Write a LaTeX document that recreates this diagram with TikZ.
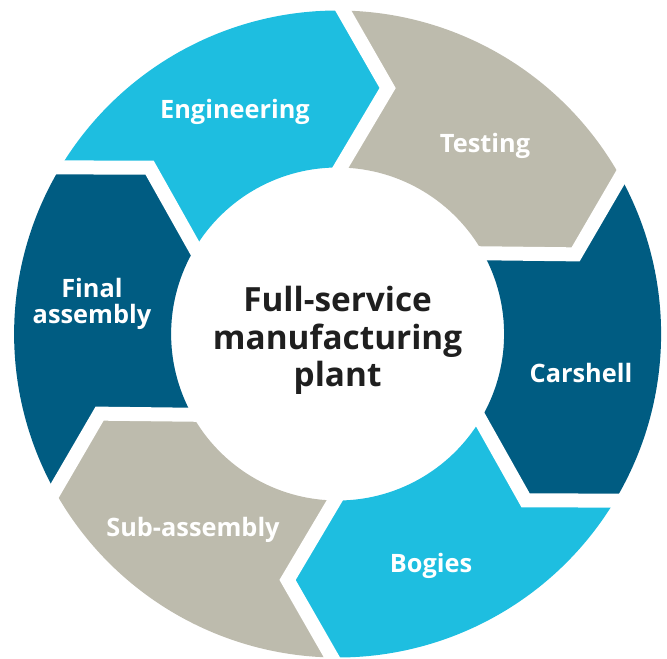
\documentclass[tikz,border=0pt]{standalone}
\usepackage{fontspec}
\setmainfont{Open Sans}
\usetikzlibrary{calc}

\definecolor{ringcyan}{RGB}{30,190,224}
\definecolor{ringgray}{RGB}{189,187,173}
\definecolor{ringdark}{RGB}{0,92,130}

% radii of the ring and angle of the chevron tip
\newcommand{\rout}{323.5}
\newcommand{\rin}{166.5}
\newcommand{\rmid}{251}
\newcommand{\dtip}{10.5}

% one chevron segment: #1 start angle, #2 colour
\newcommand{\ringseg}[2]{%
	\fill[#2] (#1:\rin) -- (#1-\dtip:\rmid) -- (#1:\rout)
		arc[start angle=#1, end angle=#1-60, radius=\rout]
		-- (#1-60-\dtip:\rmid) -- (#1-60:\rin)
		arc[start angle=#1-60, end angle=#1, radius=\rin] -- cycle;}

\begin{document}
\begin{tikzpicture}[x=0.75pt,y=0.75pt,
		gapline/.style={white, line width=10.5pt, line join=miter},
		seglabel/.style={white, font=\fontsize{19}{19.5}\selectfont\bfseries, align=center},
		hublabel/.style={black!88, font=\fontsize{25}{28}\selectfont\bfseries, align=center}]
	\useasboundingbox (-337.6,-324) rectangle (329.4,334);
	% segments, clockwise from the top
	\ringseg{149}{ringcyan}
	\ringseg{89}{ringgray}
	\ringseg{29}{ringdark}
	\ringseg{-31}{ringcyan}
	\ringseg{-91}{ringgray}
	\ringseg{-151}{ringdark}
	% white gaps between the segments
	\foreach \a in {89,29,-31,-91,-151,149}
		\draw[gapline] ($(\a-\dtip:\rmid)!1.4!(\a:\rout)$) -- (\a-\dtip:\rmid) -- ($(\a-\dtip:\rmid)!1.4!(\a:\rin)$);
	% labels
	\node[seglabel, anchor=base] (engineering) at (-102.6,216) {Engineering};
	\node[seglabel, anchor=base] (testing) at (147.4,182) {Testing};
	\node[seglabel, anchor=base] (carshell) at (243.4,-48) {Carshell};
	\node[seglabel, anchor=base] (bogies) at (93.4,-238) {Bogies};
	\node[seglabel, anchor=base] (subassembly) at (-144.6,-202) {Sub-assembly};
	\node[seglabel] (finalassembly) at (-245.6,30.5) {Final\\assembly};
	\node[hublabel] (plant) at (0,-6.5) {Full-service\\manufacturing\\plant};
\end{tikzpicture}
\end{document}
